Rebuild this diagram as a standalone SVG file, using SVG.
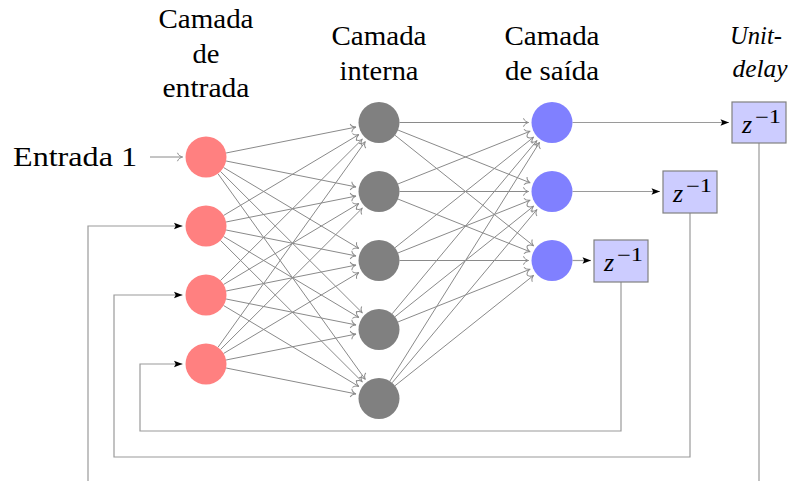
<svg xmlns="http://www.w3.org/2000/svg" width="792" height="481" viewBox="0 0 792 481">
<style>
text{font-family:"Liberation Serif","Times New Roman",serif;fill:#000}
.h{font-size:27px;text-anchor:middle}
.it{font-style:italic}
.e{stroke:#8a8a8a;stroke-width:1;fill:none;marker-end:url(#to)}
.f{stroke:#9a9a9a;stroke-width:1.2;fill:none;marker-end:url(#st)}
.in{fill:#FF8080}
.hid{fill:#808080}
.out{fill:#8080FF}
.box{fill:#CCCCFF;stroke:#808080;stroke-width:1.2}
.z{font-size:26px;font-style:italic}
.s{font-size:18px}
</style>
<defs>
<marker id="to" markerUnits="userSpaceOnUse" markerWidth="12" markerHeight="12" viewBox="-7 -6 8 12" refX="0" refY="0" orient="auto" overflow="visible">
<path d="M-5,-4.2 C-4.4,-1.6 -1.2,-0.3 0,0 C-1.2,0.3 -4.4,1.6 -5,4.2" fill="none" stroke="#8a8a8a" stroke-width="1"/>
</marker>
<marker id="st" markerUnits="userSpaceOnUse" markerWidth="12" markerHeight="12" viewBox="-9 -6 10 12" refX="0" refY="0" orient="auto" overflow="visible">
<path d="M0,0 L-8.5,-3.2 L-6.8,0 L-8.5,3.2 Z" fill="#000"/>
</marker>
</defs>

<g id="labels">
<text class="h" x="206" y="28" textLength="95" lengthAdjust="spacingAndGlyphs">Camada</text>
<text class="h" x="206" y="63" textLength="27" lengthAdjust="spacingAndGlyphs">de</text>
<text class="h" x="206" y="97" textLength="87" lengthAdjust="spacingAndGlyphs">entrada</text>
<text class="h" x="379" y="45" textLength="95" lengthAdjust="spacingAndGlyphs">Camada</text>
<text class="h" x="379" y="80" textLength="79" lengthAdjust="spacingAndGlyphs">interna</text>
<text class="h" x="552" y="45" textLength="95" lengthAdjust="spacingAndGlyphs">Camada</text>
<text class="h" x="552" y="80" textLength="94" lengthAdjust="spacingAndGlyphs">de saída</text>
<text class="h it" x="756" y="44" style="font-size:26px" textLength="52" lengthAdjust="spacingAndGlyphs">Unit-</text>
<text class="h it" x="760" y="77" style="font-size:26px" textLength="55" lengthAdjust="spacingAndGlyphs">delay</text>
<text x="13" y="166" style="font-size:27px" textLength="124" lengthAdjust="spacingAndGlyphs">Entrada 1</text>
</g>

<g id="connectors">
<path class="e" d="M150,157 H182.5"/>
<path class="e" d="M226.10,152.99 L355.95,127.10"/>
<path class="e" d="M226.10,161.01 L355.95,186.90"/>
<path class="e" d="M223.59,167.52 L358.83,248.44"/>
<path class="e" d="M220.52,171.47 L362.36,312.91"/>
<path class="e" d="M217.94,173.67 L365.31,379.40"/>
<path class="e" d="M223.59,215.48 L358.83,134.56"/>
<path class="e" d="M226.10,221.99 L355.95,196.10"/>
<path class="e" d="M226.10,230.01 L355.95,255.90"/>
<path class="e" d="M223.59,236.52 L358.83,317.44"/>
<path class="e" d="M220.52,240.47 L362.36,381.91"/>
<path class="e" d="M220.52,280.53 L362.36,139.09"/>
<path class="e" d="M223.59,284.48 L358.83,203.56"/>
<path class="e" d="M226.10,290.99 L355.95,265.10"/>
<path class="e" d="M226.10,299.01 L355.95,324.90"/>
<path class="e" d="M223.59,305.52 L358.83,386.44"/>
<path class="e" d="M217.94,347.33 L365.31,141.60"/>
<path class="e" d="M220.52,349.53 L362.36,208.09"/>
<path class="e" d="M223.59,353.48 L358.83,272.56"/>
<path class="e" d="M226.10,359.99 L355.95,334.10"/>
<path class="e" d="M226.10,368.01 L355.95,393.90"/>
<path class="e" d="M399.5,122.5 L528.5,122.5"/>
<path class="e" d="M398.04,130.09 L530.17,182.79"/>
<path class="e" d="M395.03,135.28 L533.63,245.85"/>
<path class="e" d="M398.04,183.91 L530.17,131.21"/>
<path class="e" d="M399.5,191.5 L528.5,191.5"/>
<path class="e" d="M398.04,199.09 L530.17,251.79"/>
<path class="e" d="M395.03,247.72 L533.63,137.15"/>
<path class="e" d="M398.04,252.91 L530.17,200.21"/>
<path class="e" d="M399.5,260.5 L528.5,260.5"/>
<path class="e" d="M392.15,313.77 L536.93,140.53"/>
<path class="e" d="M395.03,316.72 L533.63,206.15"/>
<path class="e" d="M398.04,321.91 L530.17,269.21"/>
<path class="e" d="M389.89,381.13 L539.52,142.41"/>
<path class="e" d="M392.15,382.77 L536.93,209.53"/>
<path class="e" d="M395.03,385.72 L533.63,275.35"/>
<path class="f" d="M572.5,122.5 H729"/>
<path class="f" d="M572.5,191.5 H660"/>
<path class="f" d="M572.5,260.5 H591"/>
<path class="f" d="M621,282 V431 H140 V364 H182.5"/>
<path class="f" d="M690,213 V457 H114 V295 H182.5"/>
<path class="f" d="M759,143 V495 H88 V226 H182.5"/>
</g>

<g id="input-1"><circle class="in" cx="206" cy="157" r="20.5"/></g>
<g id="input-2"><circle class="in" cx="206" cy="226" r="20.5"/></g>
<g id="input-3"><circle class="in" cx="206" cy="295" r="20.5"/></g>
<g id="input-4"><circle class="in" cx="206" cy="364" r="20.5"/></g>

<g id="hidden-1"><circle class="hid" cx="379" cy="122.5" r="20.5"/></g>
<g id="hidden-2"><circle class="hid" cx="379" cy="191.5" r="20.5"/></g>
<g id="hidden-3"><circle class="hid" cx="379" cy="260.5" r="20.5"/></g>
<g id="hidden-4"><circle class="hid" cx="379" cy="329.5" r="20.5"/></g>
<g id="hidden-5"><circle class="hid" cx="379" cy="398.5" r="20.5"/></g>

<g id="output-1"><circle class="out" cx="552" cy="122.5" r="20.5"/></g>
<g id="output-2"><circle class="out" cx="552" cy="191.5" r="20.5"/></g>
<g id="output-3"><circle class="out" cx="552" cy="260.5" r="20.5"/></g>

<g id="delay-1">
<rect class="box" x="732" y="102" width="54" height="41"/>
<text class="z" x="742" y="133">z</text>
<text class="s" x="755" y="123" textLength="26" lengthAdjust="spacingAndGlyphs">−1</text>
</g>
<g id="delay-2">
<rect class="box" x="663" y="171" width="54" height="42"/>
<text class="z" x="673" y="202">z</text>
<text class="s" x="686" y="192" textLength="26" lengthAdjust="spacingAndGlyphs">−1</text>
</g>
<g id="delay-3">
<rect class="box" x="594" y="240" width="54" height="42"/>
<text class="z" x="604" y="271">z</text>
<text class="s" x="617" y="261" textLength="26" lengthAdjust="spacingAndGlyphs">−1</text>
</g>
</svg>
